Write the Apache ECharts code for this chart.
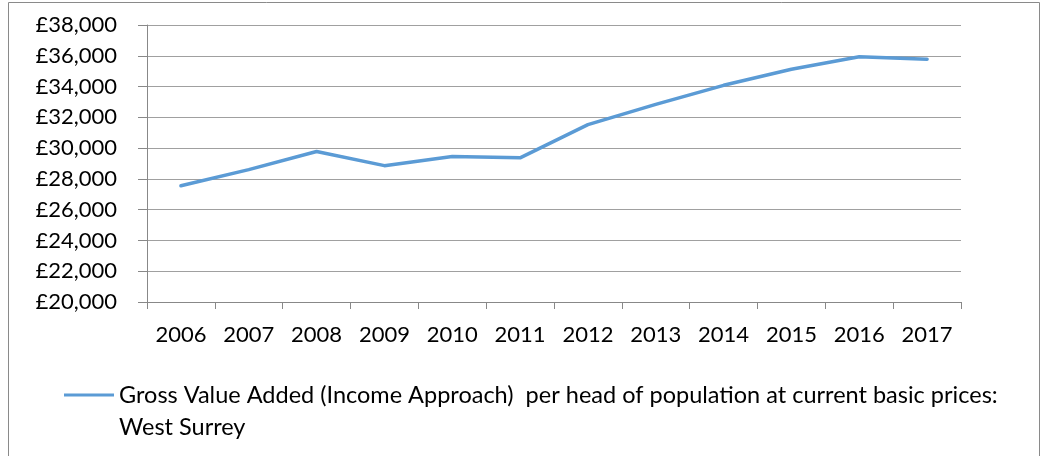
<!DOCTYPE html>
<html>
<head>
<meta charset="utf-8">
<style>
  html, body { margin: 0; padding: 0; background: #fff; }
  #chart { width: 1042px; height: 456px; }
</style>
<script src="https://cdn.jsdelivr.net/npm/echarts@6/dist/echarts.min.js"></script>
</head>
<body>
<div id="chart"></div>
<script>
// Gross Value Added per head, West Surrey (£, current basic prices)
const years = ['2006', '2007', '2008', '2009', '2010', '2011', '2012', '2013', '2014', '2015', '2016', '2017'];
const gvaPerHead = [27550, 28600, 29780, 28860, 29450, 29370, 31530, 32840, 34080, 35120, 35940, 35780];
const seriesName = 'Gross Value Added (Income Approach)  per head of population at current basic prices: West Surrey';
const legendLines = ['Gross Value Added (Income Approach)  per head of population at current basic prices:', 'West Surrey'];

const FONT = 'Lato';
const AXIS_FS = 22;
const LEGEND_FS = 23.5;

const chart = echarts.init(document.getElementById('chart'), null, { renderer: 'canvas' });

chart.setOption({
  animation: false,
  backgroundColor: '#ffffff',
  textStyle: { fontFamily: FONT, color: '#000' },
  graphic: [{
    type: 'rect',
    silent: true,
    shape: { x: 8.5, y: 2.5, width: 1031, height: 520 },
    style: { fill: 'none', stroke: '#8a8a8a', lineWidth: 1 }
  }],
  grid: { left: 147, right: 81, top: 25, bottom: 154, containLabel: false },
  legend: {
    left: 59,
    top: 342,
    padding: 5,
    icon: 'rect',
    itemWidth: 50,
    itemHeight: 3,
    selectedMode: false,
    data: [seriesName],
    // a blank first line keeps the marker level with the first text line
    formatter: () => ['\u00a0'].concat(legendLines).join('\n'),
    textStyle: {
      fontFamily: FONT, fontSize: LEGEND_FS, color: '#000',
      lineHeight: 32
    }
  },
  xAxis: {
    type: 'category',
    data: years,
    boundaryGap: true,
    axisLine: { lineStyle: { color: '#888', width: 1 } },
    axisTick: { show: true, alignWithLabel: false, length: 7, lineStyle: { color: '#888' } },
    axisLabel: { fontFamily: FONT, fontSize: AXIS_FS, color: '#000', margin: 22 },
    splitLine: { show: false }
  },
  yAxis: {
    type: 'value',
    min: 20000,
    max: 38000,
    interval: 2000,
    axisLine: { show: true, lineStyle: { color: '#888', width: 1 } },
    axisTick: { show: true, length: 9, lineStyle: { color: '#888' } },
    axisLabel: {
      fontFamily: FONT, fontSize: AXIS_FS, color: '#000', margin: 30,
      formatter: v => '£' + v.toLocaleString('en-GB')
    },
    splitLine: { show: true, lineStyle: { color: '#a0a0a0', width: 1 } }
  },
  series: [{
    name: seriesName,
    type: 'line',
    data: gvaPerHead,
    symbol: 'none',
    lineStyle: { color: '#5b9bd5', width: 3.5, cap: 'round', join: 'round' },
    itemStyle: { color: '#5b9bd5' }
  }]
});
</script>
</body>
</html>
